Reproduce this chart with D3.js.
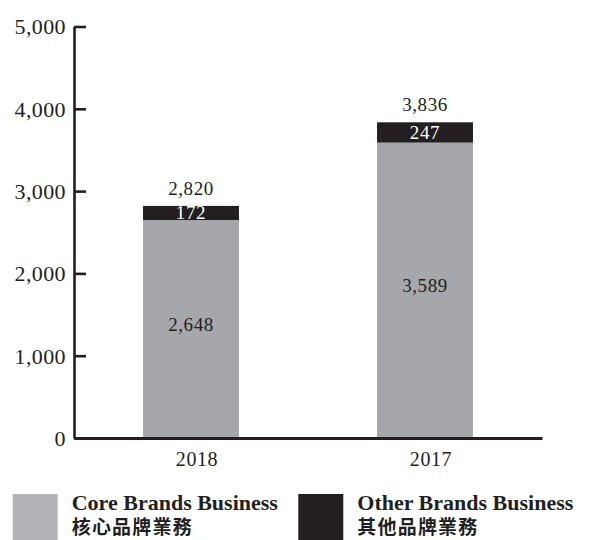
<!DOCTYPE html>
<html>
<head>
<meta charset="utf-8">
<script src="https://cdn.jsdelivr.net/npm/d3@7"></script>
<style>
	body { margin: 0; background: #fff; }
	svg { display: block; }
</style>
</head>
<body>
<div id="brands_bar"></div>
<script>
// revenue by year, split into core and other brands
const years = ["2018", "2017"]
const coreValues = [2648, 3589]
const otherValues = [172, 247]
const totals = [2820, 3836]
const yTicks = [0, 1000, 2000, 3000, 4000, 5000]
const legendEn = ["Core Brands Business", "Other Brands Business"]
const legendZh = ["核心品牌業務", "其他品牌業務"]

const ink = "#231f20",
	grey = "#a6a7aa",
	greyKey = "#b3b4b7"

const svg = d3.select("#brands_bar")
	.append("svg")
		.attr("width", 591)
		.attr("height", 540)

const x = d3.scaleBand()
	.domain(years)
	.range([74, 542])
	.paddingInner(0.59)
	.paddingOuter(0.295)

const y = d3.scaleLinear()
	.domain([0, 5000])
	.range([438, 26.5])

// bars: grey core segment with the black other segment stacked on top
const rows = years.map((yr, i) => ({year: yr, core: coreValues[i], other: otherValues[i], total: totals[i]}))

svg.append("g").selectAll("rect")
	.data(rows)
	.join("rect")
		.attr("x", d => x(d.year))
		.attr("width", x.bandwidth())
		.attr("y", d => y(d.core))
		.attr("height", d => y(0) - y(d.core))
		.attr("fill", grey)

svg.append("g").selectAll("rect")
	.data(rows)
	.join("rect")
		.attr("x", d => x(d.year))
		.attr("width", x.bandwidth())
		.attr("y", d => y(d.core + d.other))
		.attr("height", d => y(d.core) - y(d.core + d.other))
		.attr("fill", ink)

// y axis, ticks point inward
const yAxis = svg.append("g")
	.attr("transform", "translate(74,0)")
	.call(d3.axisLeft(y)
		.tickValues(yTicks)
		.tickFormat(d3.format(","))
		.tickSizeInner(-12)
		.tickSizeOuter(0)
		.tickPadding(8))
yAxis.select(".domain").attr("stroke", ink).attr("stroke-width", 2.6)
yAxis.selectAll(".tick line").attr("stroke", ink).attr("stroke-width", 2.6)
yAxis.selectAll(".tick text")
	.attr("fill", ink)
	.attr("font-family", "'Liberation Serif', serif")
	.attr("font-size", 22)
	.attr("letter-spacing", 0.4)
	.attr("dy", "0.34em")

// x axis
const xAxis = svg.append("g")
	.attr("transform", `translate(0,${y(0)})`)
	.call(d3.axisBottom(x).tickSize(0).tickPadding(14))
xAxis.select(".domain").attr("stroke", ink).attr("stroke-width", 2.8)
xAxis.selectAll(".tick text")
	.attr("fill", ink)
	.attr("font-family", "'Liberation Serif', serif")
	.attr("font-size", 20)
	.attr("letter-spacing", 0.6)
	.attr("dx", 6)

// value labels
const lbl = svg.append("g")
	.attr("font-family", "'Liberation Serif', serif")
	.attr("text-anchor", "middle")

lbl.selectAll(".total")
	.data(rows)
	.join("text")
		.attr("class", "total")
		.attr("x", d => x(d.year) + x.bandwidth() / 2)
		.attr("y", d => y(d.total) - 11)
		.attr("font-size", 19)
		.attr("letter-spacing", 0.6)
		.attr("fill", ink)
		.text(d => d3.format(",")(d.total))

lbl.selectAll(".other")
	.data(rows)
	.join("text")
		.attr("class", "other")
		.attr("x", d => x(d.year) + x.bandwidth() / 2)
		.attr("y", d => (y(d.core) + y(d.core + d.other)) / 2 + 6.5)
		.attr("font-size", 19)
		.attr("letter-spacing", 0.6)
		.attr("fill", "#fff")
		.text(d => d3.format(",")(d.other))

lbl.selectAll(".core")
	.data(rows)
	.join("text")
		.attr("class", "core")
		.attr("x", d => x(d.year) + x.bandwidth() / 2)
		.attr("y", d => (y(0) + y(d.core)) / 2 + 2)
		.attr("font-size", 19)
		.attr("letter-spacing", 0.6)
		.attr("fill", ink)
		.text(d => d3.format(",")(d.core))

// legend
const keyX = [12.7, 298.3]
const key = svg.append("g").selectAll("g")
	.data(legendEn)
	.join("g")
		.attr("transform", (d, i) => `translate(${keyX[i]},494)`)

key.append("rect")
	.attr("width", 45)
	.attr("height", 50)
	.attr("fill", (d, i) => i === 0 ? greyKey : ink)

key.append("text")
	.attr("x", 59)
	.attr("y", 16)
	.attr("font-family", "'Liberation Serif', serif")
	.attr("font-weight", "bold")
	.attr("font-size", 22)
	.attr("fill", ink)
	.text(d => d)

key.append("text")
	.attr("x", 59)
	.attr("y", 40)
	.attr("font-family", "'Noto Sans CJK TC', sans-serif")
	.attr("font-weight", "bold")
	.attr("font-size", 19)
	.attr("letter-spacing", 1.2)
	.attr("fill", ink)
	.text((d, i) => legendZh[i])
</script>
</body>
</html>
